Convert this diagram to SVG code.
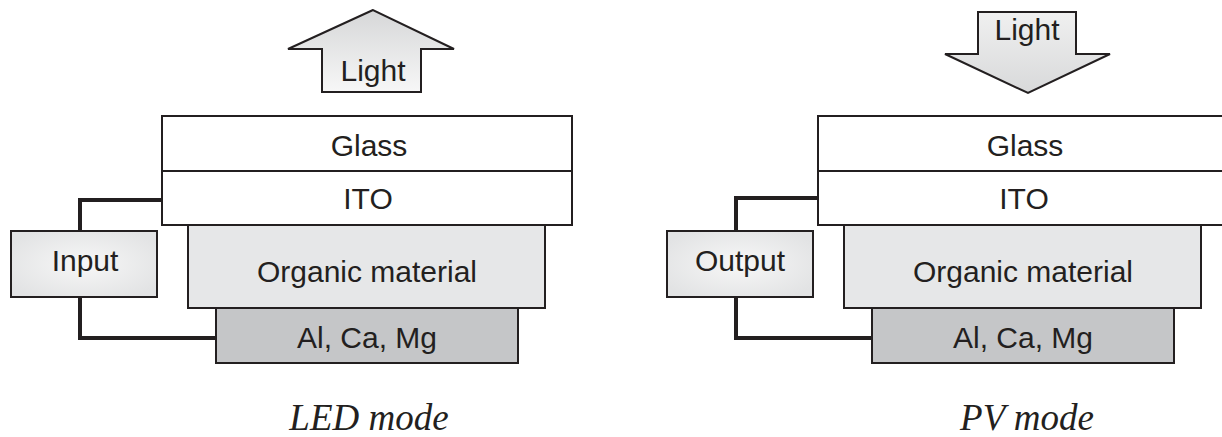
<svg xmlns="http://www.w3.org/2000/svg" width="1222" height="437" viewBox="0 0 1222 437">
  <defs>
    <linearGradient id="gUp" x1="0" y1="0" x2="0" y2="1">
      <stop offset="0" stop-color="#d6d7d8"/>
      <stop offset="1" stop-color="#f7f7f7"/>
    </linearGradient>
    <linearGradient id="gDown" x1="0" y1="0" x2="0" y2="1">
      <stop offset="0" stop-color="#f0f0f0"/>
      <stop offset="1" stop-color="#d8d9da"/>
    </linearGradient>
    <radialGradient id="gBox" cx="0.5" cy="0.5" r="0.6">
      <stop offset="0" stop-color="#f7f7f7"/>
      <stop offset="1" stop-color="#e2e3e4"/>
    </radialGradient>
    <style>
      .ln { stroke: #231f20; stroke-width: 2; }
      .white { fill: #ffffff; }
      .org { fill: #e6e7e8; }
      .metal { fill: #c5c6c8; }
      .wire { fill: none; stroke: #231f20; stroke-width: 4; }
      .t { font-family: "Liberation Sans", Arial, sans-serif; font-size: 30px; fill: #231f20; text-anchor: middle; }
      .cap { font-family: "Liberation Serif", "Times New Roman", serif; font-style: italic; font-size: 37px; fill: #231f20; text-anchor: middle; }
    </style>
  </defs>
  <rect width="1222" height="437" fill="#ffffff"/>

  <g id="connectors">
    <path class="wire" d="M162,200 H80 V231"/>
    <path class="wire" d="M80,297 V338 H216"/>
    <path class="wire" d="M818,198 H736 V231"/>
    <path class="wire" d="M736,297 V338 H872"/>
  </g>

  <!-- LED mode -->
  <g id="led-light">
    <polygon class="ln" fill="url(#gUp)" points="373,10 288,49 322,49 322,92 421,92 421,49 454,49"/>
    <text class="t" x="373" y="81">Light</text>
  </g>
  <g id="led-glass">
    <rect class="ln white" x="162" y="116" width="410" height="55"/>
    <text class="t" x="369" y="156">Glass</text>
  </g>
  <g id="led-ito">
    <rect class="ln white" x="162" y="171" width="410" height="54"/>
    <text class="t" x="368" y="209">ITO</text>
  </g>
  <g id="led-organic">
    <rect class="ln org" x="188" y="225" width="357" height="83"/>
    <text class="t" x="367" y="282">Organic material</text>
  </g>
  <g id="led-metal">
    <rect class="ln metal" x="216" y="308" width="302" height="55"/>
    <text class="t" x="367" y="348">Al, Ca, Mg</text>
  </g>
  <g id="led-input">
    <rect class="ln" fill="url(#gBox)" x="11" y="231" width="146" height="66"/>
    <text class="t" x="85" y="271">Input</text>
  </g>
  <g id="led-caption">
    <text class="cap" x="369" y="430">LED mode</text>
  </g>

  <!-- PV mode -->
  <g id="pv-light">
    <polygon class="ln" fill="url(#gDown)" points="978,12 1076,12 1076,54 1110,54 1028,93 945,54 978,54"/>
    <text class="t" x="1027" y="40">Light</text>
  </g>
  <g id="pv-glass">
    <rect class="ln white" x="818" y="116" width="410" height="55"/>
    <text class="t" x="1025" y="156">Glass</text>
  </g>
  <g id="pv-ito">
    <rect class="ln white" x="818" y="171" width="410" height="54"/>
    <text class="t" x="1024" y="209">ITO</text>
  </g>
  <g id="pv-organic">
    <rect class="ln org" x="844" y="225" width="357" height="83"/>
    <text class="t" x="1023" y="282">Organic material</text>
  </g>
  <g id="pv-metal">
    <rect class="ln metal" x="872" y="308" width="302" height="55"/>
    <text class="t" x="1023" y="348">Al, Ca, Mg</text>
  </g>
  <g id="pv-output">
    <rect class="ln" fill="url(#gBox)" x="667" y="231" width="146" height="66"/>
    <text class="t" x="740" y="271">Output</text>
  </g>
  <g id="pv-caption">
    <text class="cap" x="1027" y="430">PV mode</text>
  </g>
</svg>
